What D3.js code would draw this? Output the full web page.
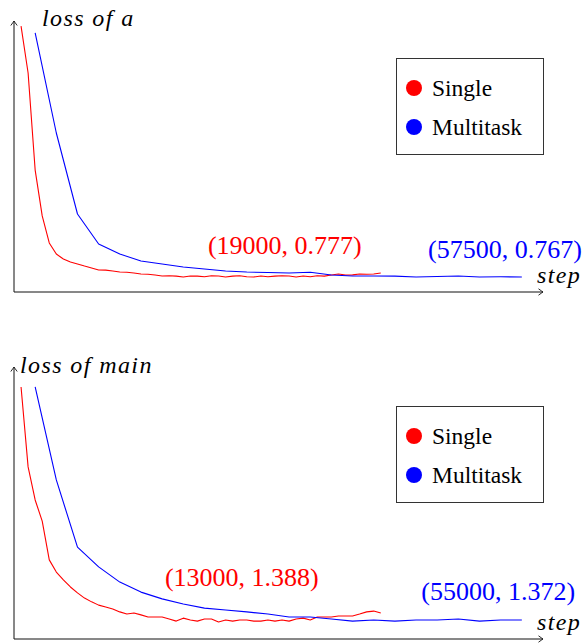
<!DOCTYPE html>
<html>
<head>
<meta charset="utf-8">
<script src="https://cdn.jsdelivr.net/npm/d3@7"></script>
</head>
<body style="margin:0">
<div id="container"></div>
<script>
// sampling steps (single run logged every 1000 steps, multitask every 3000)
const singleSteps = [1000, 2000, 3000, 4000, 5000, 6000, 7000, 8000, 9000, 10000,
  11000, 12000, 13000, 14000, 15000, 16000, 17000, 18000, 19000, 20000,
  21000, 22000, 23000, 24000, 25000, 26000, 27000, 28000, 29000, 30000,
  31000, 32000, 33000, 34000, 35000, 36000, 37000, 38000, 39000, 40000,
  41000, 42000, 43000, 44000, 45000, 46000, 47000, 48000, 49000, 50000,
  51000, 52000];
const multiSteps = [3000, 6000, 9000, 12000, 15000, 18000, 21000, 24000, 27000, 30000,
  33000, 36000, 39000, 42000, 45000, 48000, 51000, 54000, 57000, 60000,
  63000, 66000, 69000, 72000];

// loss of a
const singleLossA = [1.941, 1.722, 1.269, 1.055, 0.929, 0.877, 0.854, 0.840, 0.831, 0.821,
  0.812, 0.803, 0.802, 0.798, 0.793, 0.792, 0.789, 0.784, 0.783, 0.779,
  0.775, 0.776, 0.774, 0.770, 0.775, 0.774, 0.771, 0.776, 0.775, 0.770,
  0.774, 0.776, 0.771, 0.770, 0.775, 0.771, 0.774, 0.776, 0.775, 0.770,
  0.775, 0.771, 0.776, 0.774, 0.779, 0.784, 0.779, 0.780, 0.784, 0.783,
  0.784, 0.789];
const multiLossA = [1.909, 1.442, 1.064, 0.924, 0.877, 0.845, 0.831, 0.817, 0.807, 0.798,
  0.793, 0.791, 0.789, 0.792, 0.779, 0.775, 0.775, 0.774, 0.770, 0.772,
  0.775, 0.770, 0.771, 0.770];

// loss of main
const singleLossMain = [2.230, 1.935, 1.813, 1.735, 1.592, 1.547, 1.518, 1.492, 1.470, 1.451,
  1.437, 1.425, 1.418, 1.411, 1.400, 1.392, 1.396, 1.389, 1.381, 1.381,
  1.381, 1.374, 1.366, 1.377, 1.370, 1.366, 1.374, 1.374, 1.363, 1.370,
  1.366, 1.370, 1.370, 1.366, 1.366, 1.370, 1.366, 1.370, 1.366, 1.374,
  1.377, 1.370, 1.381, 1.381, 1.381, 1.385, 1.385, 1.385, 1.392, 1.400,
  1.403, 1.396];
const multiLossMain = [2.230, 1.887, 1.639, 1.566, 1.510, 1.473, 1.448, 1.429, 1.414, 1.407,
  1.400, 1.392, 1.381, 1.381, 1.374, 1.366, 1.370, 1.366, 1.370, 1.370,
  1.374, 1.366, 1.370, 1.370];

const seriesNames = ["Single", "Multitask"];
const seriesColors = ["#ff0000", "#0000ff"];

const fontFam = d => "\"Liberation Serif\", monospace";

const width = 588, height = 644;

const svg = d3.select("#container")
  .append("svg")
    .attr("width", width)
    .attr("height", height);

// open "to" style arrow head
svg.append("defs").append("marker")
    .attr("id", "arrow")
    .attr("viewBox", "-6 -4 8 8")
    .attr("refX", 0)
    .attr("refY", 0)
    .attr("markerWidth", 8)
    .attr("markerHeight", 8)
    .attr("markerUnits", "userSpaceOnUse")
    .attr("orient", "auto")
  .append("path")
    .attr("d", "M-4.5,-3.2 Q-1.2,-0.8 0,0 Q-1.2,0.8 -4.5,3.2")
    .attr("fill", "none")
    .attr("stroke", "#111")
    .attr("stroke-width", 0.9);

const x = d3.scaleLinear()
  .domain([0, 75000])
  .range([14, 543]);

function drawPanel(cfg) {
  const y = d3.scaleLinear()
    .domain(cfg.yDomain)
    .range(cfg.yRange);

  // axes (no ticks, arrows at the ends)
  svg.append("line")
    .attr("x1", x.range()[0]).attr("y1", y.range()[0])
    .attr("x2", x.range()[0]).attr("y2", y.range()[1] - 1)
    .attr("stroke", "#111").attr("stroke-width", 1)
    .attr("marker-end", "url(#arrow)");
  svg.append("line")
    .attr("x1", x.range()[0]).attr("y1", y.range()[0])
    .attr("x2", x.range()[1]).attr("y2", y.range()[0])
    .attr("stroke", "#111").attr("stroke-width", 1)
    .attr("marker-end", "url(#arrow)");

  const line = d3.line()
    .x(d => x(d[0]))
    .y(d => y(d[1]));

  const series = [
    d3.zip(singleSteps, cfg.single),
    d3.zip(multiSteps, cfg.multi)
  ];

  series.forEach((s, i) => {
    svg.append("path")
      .datum(s)
      .attr("d", line)
      .attr("fill", "none")
      .attr("stroke", seriesColors[i])
      .attr("stroke-width", 1.1)
      .attr("stroke-linejoin", "round");
  });

  // axis labels
  svg.append("text")
    .attr("x", cfg.yLabelX)
    .attr("y", cfg.yLabelY)
    .attr("font-size", 24)
    .attr("letter-spacing", 1.4)
    .style("font-family", fontFam)
    .style("font-style", "italic")
    .text(cfg.yLabel);

  svg.append("text")
    .attr("x", 537)
    .attr("y", y.range()[0] - 9)
    .attr("font-size", 24)
    .attr("letter-spacing", 1.4)
    .style("font-family", fontFam)
    .style("font-style", "italic")
    .text("step");

  // best-point annotations
  cfg.notes.forEach((n, i) => {
    svg.append("text")
      .attr("x", x(n.step))
      .attr("y", y(n.loss))
      .attr("text-anchor", "middle")
      .attr("font-size", 26)
      .style("font-family", fontFam)
      .style("fill", seriesColors[i])
      .text(n.text);
  });

  // legend
  svg.append("rect")
    .attr("x", 396.5).attr("y", cfg.legendTop + 0.5)
    .attr("width", 147).attr("height", 96)
    .attr("fill", "#fff")
    .attr("stroke", "#333")
    .attr("stroke-width", 1);
  seriesNames.forEach((name, i) => {
    const cy = cfg.legendTop + 30 + i * 39;
    svg.append("circle")
      .attr("cx", 414)
      .attr("cy", cy)
      .attr("r", 8)
      .attr("fill", seriesColors[i]);
    svg.append("text")
      .attr("x", 432)
      .attr("y", cy + 7.5)
      .attr("font-size", 23.5)
      .style("font-family", fontFam)
      .text(name);
  });
}

drawPanel({
  yDomain: [0.7, 1.96],
  yRange: [292, 22],
  single: singleLossA,
  multi: multiLossA,
  yLabel: "loss of a",
  yLabelX: 42,
  yLabelY: 26,
  legendTop: 58,
  notes: [
    {text: "(19000, 0.777)", step: 38400, loss: 0.877},
    {text: "(57500, 0.767)", step: 69600, loss: 0.858}
  ]
});

drawPanel({
  yDomain: [1.3, 2.3],
  yRange: [639, 368],
  single: singleLossMain,
  multi: multiLossMain,
  yLabel: "loss of main",
  yLabelX: 20,
  yLabelY: 373,
  legendTop: 406,
  notes: [
    {text: "(13000, 1.388)", step: 32300, loss: 1.496},
    {text: "(55000, 1.372)", step: 68650, loss: 1.444}
  ]
});
</script>
</body>
</html>
